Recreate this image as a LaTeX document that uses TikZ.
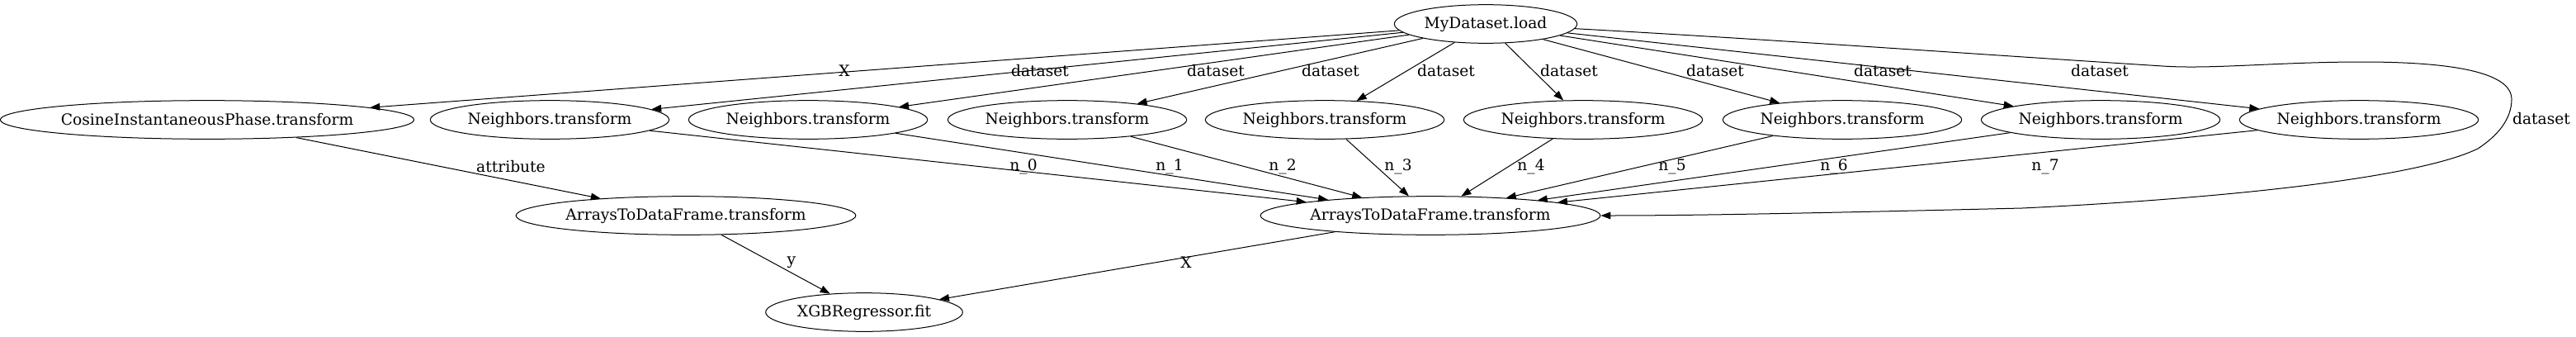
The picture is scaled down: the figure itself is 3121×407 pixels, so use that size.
\documentclass[tikz,border=0pt]{standalone}
\usepackage{fontspec}
\setmainfont{DejaVu Serif}
\usepackage{tikz}
\usetikzlibrary{shapes.geometric, arrows.meta}

\tikzset{
    op/.style={ellipse, draw, line width=0.75pt, inner sep=0pt,
        minimum height=35pt, font=\fontsize{14pt}{16pt}\selectfont},
    flow/.style={-{Triangle[length=9pt,width=6.5pt]}, line width=0.75pt},
    tag/.style={font=\fontsize{14pt}{16pt}\selectfont, inner sep=0pt}
}

\begin{document}
\begin{tikzpicture}[x=0.75pt, y=-0.75pt]
    \useasboundingbox (0,0) rectangle (3121,407);

    \node[op, minimum width=166pt] (load) at (1800, 29) {MyDataset.load};
    \node[op, minimum width=369pt] (cosine) at (251, 145) {CosineInstantaneousPhase.transform};
    \foreach \i/\x in {1/666, 2/979, 3/1293, 4/1605, 5/1918, 6/2232, 7/2545, 8/2858}
        \node[op, minimum width=217pt] (nbr\i) at (\x, 145) {Neighbors.transform};
    \node[op, minimum width=306pt] (framea) at (831, 261) {ArraysToDataFrame.transform};
    \node[op, minimum width=306pt] (frameb) at (1733, 261) {ArraysToDataFrame.transform};
    \node[op, minimum width=179pt] (xgb) at (1047, 378) {XGBRegressor.fit};

    % load -> transforms
    \draw[flow] (load) -- (cosine) node[tag] at (1023, 86) {X};
    \foreach \i/\dx/\nx [count=\k from 0] in {1/1260/1240, 2/1473/1417, 3/1612/1554,
            4/1752/1694, 5/1901/1855, 6/2078/2026, 7/2281/2222, 8/2544/2478} {
        \draw[flow] (load) -- (nbr\i) node[tag] at (\dx, 86) {dataset};
        \draw[flow] (nbr\i) -- (frameb) node[tag] at (\nx, 202) {n\_\k};
    }
    \draw[flow] (load.-3) .. controls (2150,48) and (2400,66) .. (2620,80)
        .. controls (2680,84) and (2760,75) .. (2862,75)
        .. controls (3000,75) and (3043,95) .. (3043,120)
        .. controls (3043,145) and (3025,165) .. (3002,180)
        .. controls (2930,215) and (2700,240) .. (2450,252)
        .. controls (2200,258) and (2050,261) .. (frameb.east)
        node[tag] at (3079, 144) {dataset};

    % into the regressor
    \draw[flow] (cosine) -- (framea) node[tag] at (619, 202) {attribute};
    \draw[flow] (framea) -- (xgb) node[tag] at (959, 318) {y};
    \draw[flow] (frameb) -- (xgb) node[tag] at (1437, 318) {X};
\end{tikzpicture}
\end{document}
